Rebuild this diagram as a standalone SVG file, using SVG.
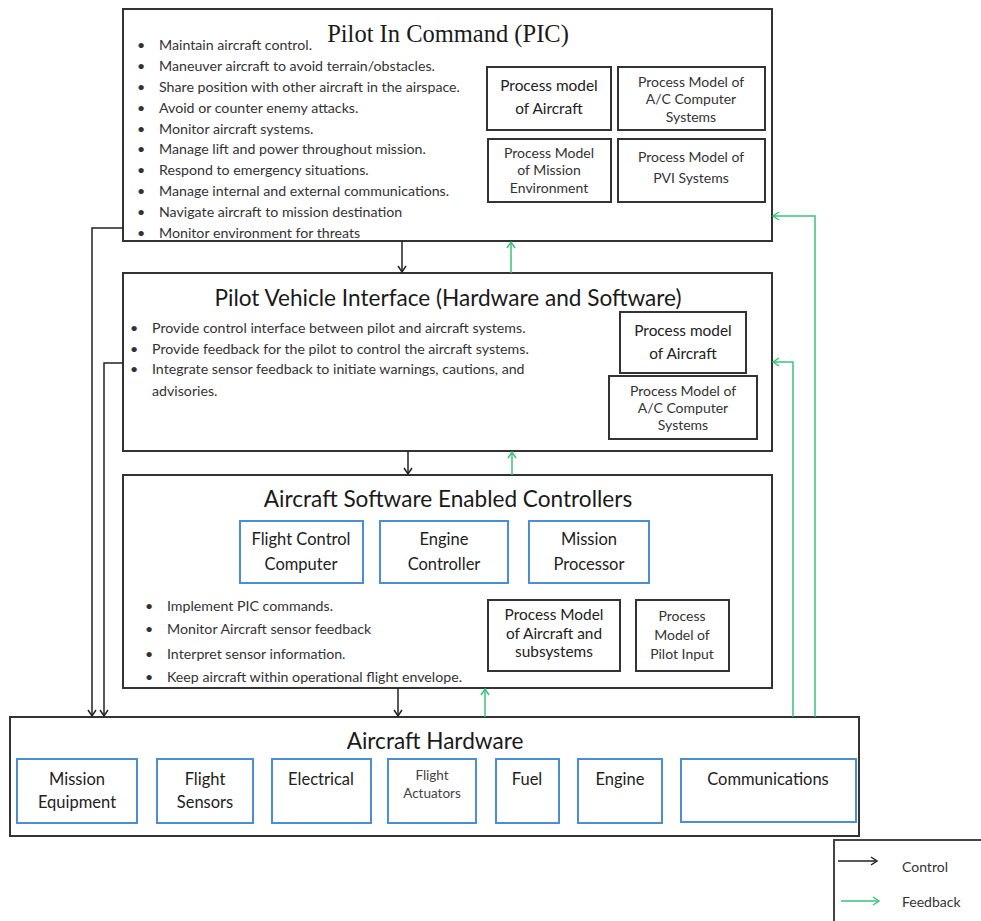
<svg xmlns="http://www.w3.org/2000/svg" width="981" height="921" viewBox="0 0 981 921">
<style>
  .big { fill: #ffffff; stroke: #333333; stroke-width: 2; }
  .pm { fill: #ffffff; stroke: #333333; stroke-width: 2; }
  .blue { fill: #ffffff; stroke: #4a8fd6; stroke-width: 2; }
  .title { font-family: Lato, "Liberation Sans", sans-serif; font-size: 22.6px; fill: #1a1a1a; text-anchor: middle; }
  .ptitle { font-family: "Liberation Serif", serif; font-size: 24.5px; fill: #1a1a1a; text-anchor: middle; }
  .bul { font-family: Lato, "Liberation Sans", sans-serif; font-size: 14.2px; fill: #333333; }
  .pmt { font-family: Lato, "Liberation Sans", sans-serif; font-size: 14px; fill: #333333; text-anchor: middle; }
  .pmt2 { font-family: Lato, "Liberation Sans", sans-serif; font-size: 15.4px; fill: #222222; text-anchor: middle; }
  .bt { font-family: Lato, "Liberation Sans", sans-serif; font-size: 16.5px; fill: #222222; text-anchor: middle; }
  .bts { font-family: Lato, "Liberation Sans", sans-serif; font-size: 13.5px; fill: #444444; text-anchor: middle; }
  .ctl { fill: none; stroke: #222222; stroke-width: 1.5; }
  .fb { fill: none; stroke: #3cc27a; stroke-width: 1.5; }
  .leg { font-family: Lato, "Liberation Sans", sans-serif; font-size: 14px; fill: #333333; }
</style>
<defs>
  <marker id="ah" markerWidth="10" markerHeight="10" refX="7" refY="5" orient="auto" markerUnits="userSpaceOnUse">
    <path d="M1,1 L7,5 L1,9" fill="none" stroke="#222222" stroke-width="1.5"/>
  </marker>
  <marker id="ahg" markerWidth="10" markerHeight="10" refX="7" refY="5" orient="auto" markerUnits="userSpaceOnUse">
    <path d="M1,1 L7,5 L1,9" fill="none" stroke="#3cc27a" stroke-width="1.5"/>
  </marker>
</defs>
<rect width="981" height="921" fill="#ffffff"/>

<g id="pic">
  <rect class="big" x="123" y="9" width="649" height="232"/>
  <text class="ptitle" x="448" y="42">Pilot In Command (PIC)</text>
  <g class="bul">
    <text x="137" y="50">•</text><text x="159" y="50">Maintain aircraft control.</text>
    <text x="137" y="71">•</text><text x="159" y="71">Maneuver aircraft to avoid terrain/obstacles.</text>
    <text x="137" y="92">•</text><text x="159" y="92">Share position with other aircraft in the airspace.</text>
    <text x="137" y="113">•</text><text x="159" y="113">Avoid or counter enemy attacks.</text>
    <text x="137" y="134">•</text><text x="159" y="134">Monitor aircraft systems.</text>
    <text x="137" y="154">•</text><text x="159" y="154">Manage lift and power throughout mission.</text>
    <text x="137" y="175">•</text><text x="159" y="175">Respond to emergency situations.</text>
    <text x="137" y="196">•</text><text x="159" y="196">Manage internal and external communications.</text>
    <text x="137" y="217">•</text><text x="159" y="217">Navigate aircraft to mission destination</text>
    <text x="137" y="238">•</text><text x="159" y="238">Monitor environment for threats</text>
  </g>
</g>
<g id="pic-pm-aircraft">
  <rect class="pm" x="487" y="67" width="124" height="63"/>
  <text class="pmt2" x="549" y="91">Process model</text>
  <text class="pmt2" x="549" y="114">of Aircraft</text>
</g>
<g id="pic-pm-ac-computer">
  <rect class="pm" x="618" y="67" width="147" height="63"/>
  <text class="pmt" x="691" y="87">Process Model of</text>
  <text class="pmt" x="691" y="104">A/C Computer</text>
  <text class="pmt" x="691" y="122">Systems</text>
</g>
<g id="pic-pm-mission-env">
  <rect class="pm" x="488" y="139" width="123" height="63"/>
  <text class="pmt" x="549" y="158">Process Model</text>
  <text class="pmt" x="549" y="175">of Mission</text>
  <text class="pmt" x="549" y="193">Environment</text>
</g>
<g id="pic-pm-pvi">
  <rect class="pm" x="618" y="139" width="147" height="63"/>
  <text class="pmt" x="691" y="162">Process Model of</text>
  <text class="pmt" x="691" y="183">PVI Systems</text>
</g>

<g id="pvi">
  <rect class="big" x="123" y="273" width="649" height="178"/>
  <text class="title" x="448" y="306">Pilot Vehicle Interface (Hardware and Software)</text>
  <g class="bul">
    <text x="130" y="333">•</text><text x="152" y="333">Provide control interface between pilot and aircraft systems.</text>
    <text x="130" y="354">•</text><text x="152" y="354">Provide feedback for the pilot to control the aircraft systems.</text>
    <text x="130" y="374">•</text><text x="152" y="374">Integrate sensor feedback to initiate warnings, cautions, and</text>
    <text x="152" y="396">advisories.</text>
  </g>
</g>
<g id="pvi-pm-aircraft">
  <rect class="pm" x="620" y="312" width="126" height="61"/>
  <text class="pmt2" x="683" y="336">Process model</text>
  <text class="pmt2" x="683" y="359">of Aircraft</text>
</g>
<g id="pvi-pm-ac-computer">
  <rect class="pm" x="609" y="376" width="148" height="63"/>
  <text class="pmt" x="683" y="396">Process Model of</text>
  <text class="pmt" x="683" y="413">A/C Computer</text>
  <text class="pmt" x="683" y="430">Systems</text>
</g>

<g id="asec">
  <rect class="big" x="123" y="475" width="649" height="213"/>
  <text class="title" x="448" y="507">Aircraft Software Enabled Controllers</text>
  <g class="bul">
    <text x="145" y="611">•</text><text x="167" y="611">Implement PIC commands.</text>
    <text x="145" y="634">•</text><text x="167" y="634">Monitor Aircraft sensor feedback</text>
    <text x="145" y="659">•</text><text x="167" y="659">Interpret sensor information.</text>
    <text x="145" y="682">•</text><text x="167" y="682">Keep aircraft within operational flight envelope.</text>
  </g>
</g>
<g id="fcc">
  <rect class="blue" x="240" y="521" width="123" height="62"/>
  <text class="bt" x="301" y="545">Flight Control</text>
  <text class="bt" x="301" y="570">Computer</text>
</g>
<g id="engine-controller">
  <rect class="blue" x="380" y="521" width="128" height="62"/>
  <text class="bt" x="444" y="545">Engine</text>
  <text class="bt" x="444" y="570">Controller</text>
</g>
<g id="mission-processor">
  <rect class="blue" x="529" y="521" width="120" height="62"/>
  <text class="bt" x="589" y="545">Mission</text>
  <text class="bt" x="589" y="570">Processor</text>
</g>
<g id="asec-pm-aircraft">
  <rect class="pm" x="488" y="600" width="132" height="71"/>
  <text class="pmt2" x="554" y="620">Process Model</text>
  <text class="pmt2" x="554" y="639">of Aircraft and</text>
  <text class="pmt2" x="554" y="657">subsystems</text>
</g>
<g id="asec-pm-pilot">
  <rect class="pm" x="636" y="600" width="93" height="71"/>
  <text class="pmt" x="682" y="621">Process</text>
  <text class="pmt" x="682" y="640">Model of</text>
  <text class="pmt" x="682" y="659">Pilot Input</text>
</g>

<g id="hardware">
  <rect class="big" x="10" y="717" width="849" height="119" stroke-width="2.5"/>
  <text class="title" x="435" y="749">Aircraft Hardware</text>
</g>
<g id="mission-equipment">
  <rect class="blue" x="17" y="759" width="120" height="64"/>
  <text class="bt" x="77" y="785">Mission</text>
  <text class="bt" x="77" y="808">Equipment</text>
</g>
<g id="flight-sensors">
  <rect class="blue" x="157" y="759" width="96" height="64"/>
  <text class="bt" x="205" y="785">Flight</text>
  <text class="bt" x="205" y="808">Sensors</text>
</g>
<g id="electrical">
  <rect class="blue" x="272" y="759" width="99" height="64"/>
  <text class="bt" x="321" y="785">Electrical</text>
</g>
<g id="flight-actuators">
  <rect class="blue" x="388" y="759" width="88" height="64"/>
  <text class="bts" x="432" y="780">Flight</text>
  <text class="bts" x="432" y="798">Actuators</text>
</g>
<g id="fuel">
  <rect class="blue" x="496" y="759" width="63" height="64"/>
  <text class="bt" x="527" y="785">Fuel</text>
</g>
<g id="engine">
  <rect class="blue" x="578" y="759" width="84" height="64"/>
  <text class="bt" x="620" y="785">Engine</text>
</g>
<g id="communications">
  <rect class="blue" x="681" y="759" width="175" height="63"/>
  <text class="bt" x="768" y="785">Communications</text>
</g>

<g id="connectors">
  <line class="ctl" x1="402" y1="241" x2="402" y2="272" marker-end="url(#ah)"/>
  <line class="fb" x1="511" y1="273" x2="511" y2="242" marker-end="url(#ahg)"/>
  <line class="ctl" x1="408" y1="451" x2="408" y2="474" marker-end="url(#ah)"/>
  <line class="fb" x1="512" y1="475" x2="512" y2="452" marker-end="url(#ahg)"/>
  <line class="ctl" x1="398" y1="688" x2="398" y2="716" marker-end="url(#ah)"/>
  <line class="fb" x1="485" y1="717" x2="485" y2="689" marker-end="url(#ahg)"/>
  <polyline class="ctl" points="123,228 92,228 92,716" marker-end="url(#ah)"/>
  <polyline class="ctl" points="123,363 104,363 104,716" marker-end="url(#ah)"/>
  <polyline class="fb" points="815,717 815,216 773,216" marker-end="url(#ahg)"/>
  <polyline class="fb" points="793,717 793,362 773,362" marker-end="url(#ahg)"/>
</g>

<g id="legend">
  <rect x="834" y="840" width="160" height="90" fill="#ffffff" stroke="#444444" stroke-width="2"/>
  <line class="ctl" x1="838" y1="861" x2="877" y2="861" marker-end="url(#ah)"/>
  <text class="leg" x="902" y="872">Control</text>
  <line class="fb" x1="841" y1="901" x2="879" y2="901" marker-end="url(#ahg)"/>
  <text class="leg" x="902" y="907">Feedback</text>
</g>
</svg>
